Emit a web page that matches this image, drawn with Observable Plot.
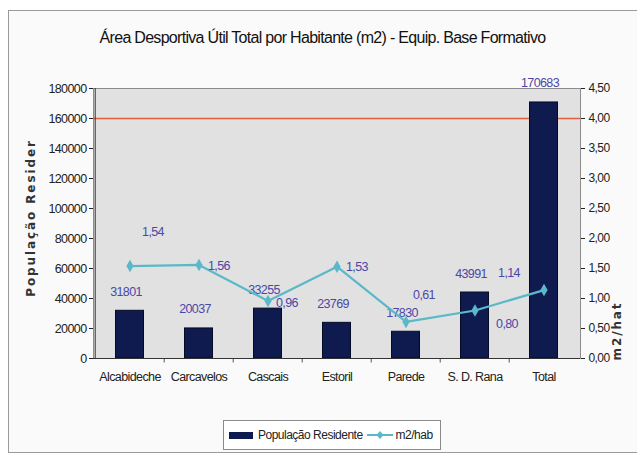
<!DOCTYPE html>
<html>
<head>
<meta charset="utf-8">
<script src="https://cdn.jsdelivr.net/npm/d3@7"></script>
<script src="https://cdn.jsdelivr.net/npm/@observablehq/plot@0.6"></script>
<style>
  body { margin:0; background:#fff; font-family:"Liberation Sans Narrow","Arial Narrow","Liberation Sans",sans-serif; }
  #wrap { position:relative; width:637px; height:454px; overflow:hidden; }
  #box { position:absolute; left:8px; top:10px; width:640px; height:441px; border:1px solid #9a9a9a; background:#fafafa; }
  #title { position:absolute; left:8px; width:629px; top:29px; text-align:center; font-size:16px; color:#111; letter-spacing:-0.7px; }
  #chart { position:absolute; left:0; top:70px; }
  .ytitle { position:absolute; font-family:"DejaVu Sans","Liberation Sans",sans-serif; font-weight:bold; font-size:12px; color:#333; letter-spacing:1.9px; white-space:nowrap; transform-origin:center center; }
  #legend { position:absolute; left:223px; top:420px; width:218px; height:30px; border:1px solid #8a8a8a; background:#fff; font-size:12px; color:#222; letter-spacing:-0.5px; display:flex; align-items:center; padding-left:5px; box-sizing:border-box; }
  #legend .sw { width:24px; height:7px; background:#0f1a4e; margin-right:5px; }
  #legend svg { margin:0 3px 0 4px; }
</style>
</head>
<body>
<div id="wrap">
  <div id="box"></div>
  <div id="title">Área Desportiva Útil Total por Habitante (m2) - Equip. Base Formativo</div>
  <div id="chart"></div>
  <div class="ytitle" id="yl">População Resider</div>
  <div class="ytitle" id="yr">m2/hat</div>
  <div id="legend">
    <div class="sw"></div><span>População Residente</span>
    <svg width="26" height="14"><line x1="0" y1="7" x2="26" y2="7" stroke="#5bb8c9" stroke-width="2"/><path d="M13 3 L16.5 7 L13 11 L9.5 7 Z" fill="#5bb8c9"/></svg>
    <span>m2/hab</span>
  </div>
</div>
<script>
const categories = ["Alcabideche", "Carcavelos", "Cascais", "Estoril", "Parede", "S. D. Rana", "Total"];
const populacao = [31801, 20037, 33255, 23769, 17830, 43991, 170683];
const m2hab = [1.54, 1.56, 0.96, 1.53, 0.61, 0.80, 1.14];
const m2Labels = ["1,54", "1,56", "0,96", "1,53", "0,61", "0,80", "1,14"];
const referencia = 4.00; // m2/hab reference line
const leftTicks = [0, 20000, 40000, 60000, 80000, 100000, 120000, 140000, 160000, 180000];
const rightTicks = [0, 0.5, 1, 1.5, 2, 2.5, 3, 3.5, 4, 4.5];

// label placement (style, not data)
const lineLabelOffset = {
  "Alcabideche": [23, -34, "middle"],
  "Carcavelos": [9, 1, "start"],
  "Cascais": [8, 2, "start"],
  "Estoril": [9, 0, "start"],
  "Parede": [18, -27, "middle"],
  "S. D. Rana": [32, 13, "middle"],
  "Total": [-35, -17, "middle"]
};

const k = 180000 / 4.5; // secondary axis factor
const rows = categories.map((c, i) => ({cat: c, pop: populacao[i], m2: m2hab[i], lab: m2Labels[i]}));

const labelColor = "#4b47a6";
const lineColor = "#5bb8c9";
const W = 637, ML = 93, MR = 57;
const step = (W - ML - MR) / categories.length;

const lineLabelMarks = rows.map(r => {
  const [dx, dy, anchor] = lineLabelOffset[r.cat];
  return Plot.text([r], {x: "cat", y: d => d.m2 * k, text: "lab", dx, dy, textAnchor: anchor, fill: labelColor, fontSize: 12.5});
});

const chart = Plot.plot({
  width: W, height: 330,
  marginTop: 18, marginBottom: 42, marginLeft: ML, marginRight: MR,
  style: {fontFamily: '"Liberation Sans Narrow","Arial Narrow","Liberation Sans",sans-serif', fontSize: "12px", background: "transparent", color: "#222", letterSpacing: "-0.6px"},
  x: {type: "band", domain: categories, padding: 0},
  y: {domain: [0, 180000]},
  marks: [
    Plot.frame({fill: "#e1e1e1", stroke: "#8c8c8c"}),
    Plot.ruleY([referencia * k], {stroke: "#e2603c", strokeWidth: 1.5}),
    Plot.barY(rows, {x: "cat", y: "pop", fill: "#0f1a4e", stroke: "#050a25", insetLeft: 20.5, insetRight: 20.5}),
    Plot.text(rows, {x: "cat", y: "pop", text: d => String(d.pop), dx: -4, dy: -19, fill: labelColor, fontSize: 12.5}),
    Plot.line(rows, {x: "cat", y: d => d.m2 * k, stroke: lineColor, strokeWidth: 2.2}),
    Plot.dot(rows, {x: "cat", y: d => d.m2 * k, symbol: "diamond", r: 3.8, fill: lineColor}),
    ...lineLabelMarks,
    Plot.ruleX(categories.slice(1), {x: d => d, y1: 0, y2: -3000, dx: -step / 2, stroke: "#555"}),
    Plot.ruleY([0], {stroke: "#333"}),
    Plot.ruleX([categories[0]], {y1: 0, y2: 180000, dx: -step / 2, stroke: "#333"}),
    Plot.axisY({anchor: "left", ticks: leftTicks, tickSize: 4, tickPadding: 3, tickFormat: d3.format("d"), label: null, fontSize: 12.5}),
    Plot.axisY({anchor: "right", ticks: rightTicks.map(v => v * k), tickSize: 4, tickPadding: 4, tickFormat: d => (d / k).toFixed(2).replace(".", ","), label: null, fontSize: 12}),
    Plot.axisX({tickSize: 0, tickPadding: 14, label: null, fontSize: 12.5})
  ]
});
document.getElementById("chart").appendChild(chart);

// place rotated axis titles
const yl = document.getElementById("yl");
const yr = document.getElementById("yr");
function placeRot(el, cx, cy) {
  const w = el.offsetWidth, h = el.offsetHeight;
  el.style.left = (cx - w / 2) + "px";
  el.style.top = (cy - h / 2) + "px";
  el.style.transform = "rotate(-90deg)";
}
placeRot(yl, 31, 218);
placeRot(yr, 616, 331);
</script>
</body>
</html>
